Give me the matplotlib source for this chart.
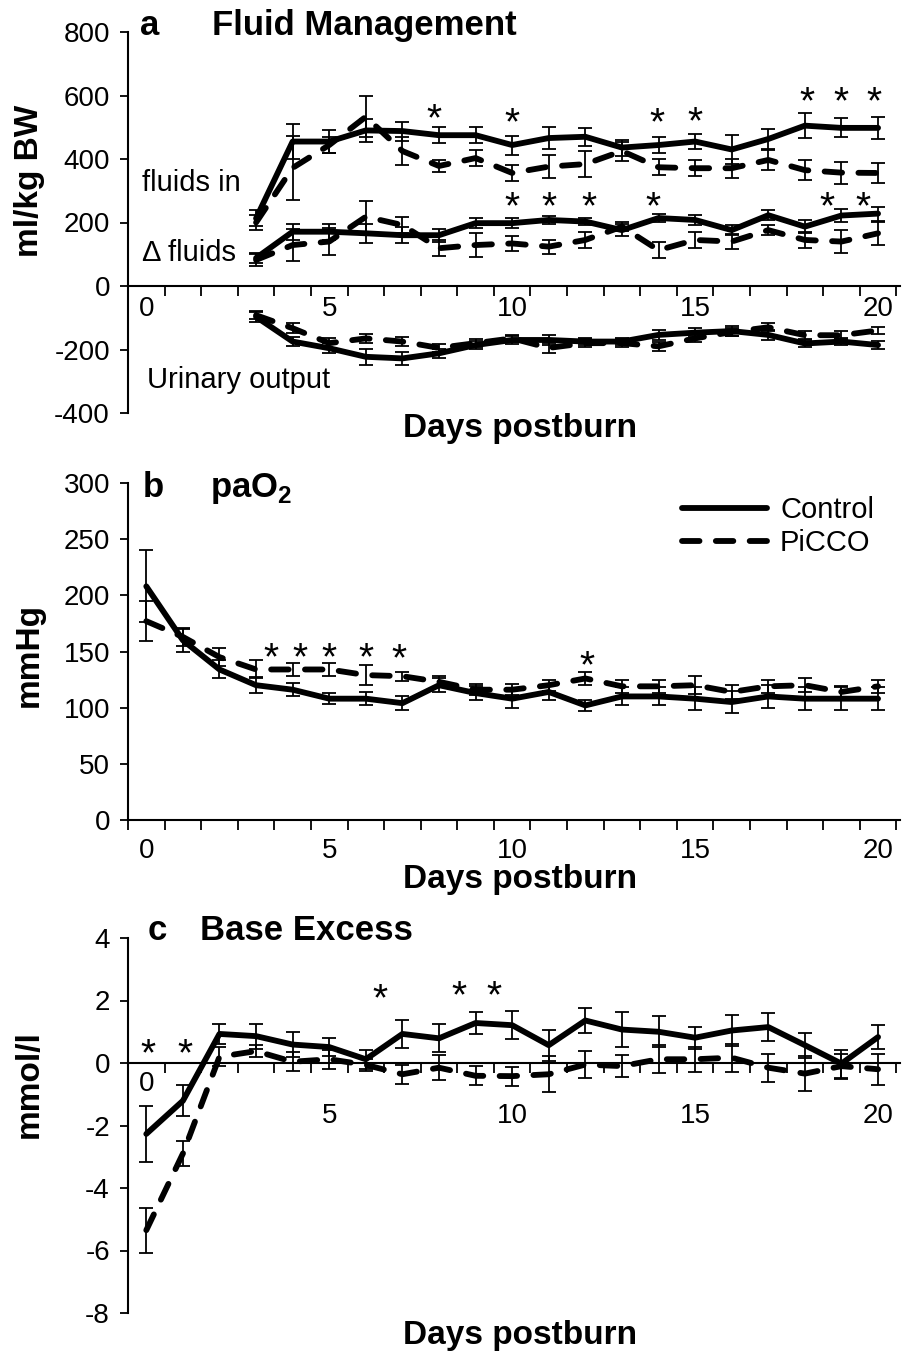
import numpy as np
import matplotlib
matplotlib.use("Agg")
import matplotlib.pyplot as plt
from matplotlib.lines import Line2D
from matplotlib.ticker import NullFormatter, FixedFormatter
from matplotlib.transforms import offset_copy

plt.rcParams["font.family"] = ["Liberation Sans", "DejaVu Sans"]
plt.rcParams["mathtext.fontset"] = "custom"
plt.rcParams["mathtext.bf"] = "Liberation Sans:bold"
plt.rcParams["mathtext.rm"] = "Liberation Sans"
plt.rcParams["axes.unicode_minus"] = False

# ---- panel a: fluid management (ml/kg BW), days 3..20
days_a = np.arange(3, 21)
ctrl_in = [213, 455, 455, 490, 488, 475, 475, 444, 466, 470, 436, 444, 455, 430, 463, 505, 498, 498]
ctrl_in_err = [25, 55, 35, 35, 30, 25, 25, 30, 35, 28, 25, 25, 25, 45, 30, 40, 30, 35]
picco_in = [200, 372, 444, 533, 425, 378, 403, 356, 376, 384, 425, 374, 371, 371, 397, 365, 357, 356]
picco_in_err = [25, 100, 25, 65, 45, 20, 25, 25, 36, 40, 30, 25, 25, 30, 32, 32, 35, 32]
ctrl_delta = [88, 171, 171, 166, 160, 160, 198, 198, 208, 203, 176, 214, 208, 176, 223, 187, 222, 228]
ctrl_delta_err = [15, 25, 25, 30, 25, 20, 15, 15, 12, 12, 20, 12, 15, 15, 15, 20, 20, 22]
picco_delta = [82, 129, 140, 218, 192, 119, 129, 134, 124, 145, 187, 113, 145, 140, 176, 145, 140, 166]
picco_delta_err = [20, 50, 42, 50, 25, 25, 37, 25, 22, 25, 15, 25, 25, 25, 15, 25, 35, 37]
ctrl_urine = [-97, -175, -196, -223, -228, -212, -186, -170, -170, -175, -175, -154, -147, -142, -154, -181, -175, -186]
ctrl_urine_err = [15, 15, 15, 25, 20, 15, 12, 12, 15, 12, 12, 15, 15, 15, 15, 12, 12, 12]
picco_urine = [-92, -133, -180, -165, -175, -195, -180, -165, -195, -180, -180, -190, -165, -145, -130, -155, -155, -140]
picco_urine_err = [12, 15, 15, 15, 15, 12, 12, 12, 15, 12, 12, 15, 12, 12, 12, 12, 12, 12]

# ---- panel b: paO2 (mmHg), days 0..20
days = np.arange(0, 21)
ctrl_pao2 = [208, 160, 134, 120, 116, 108, 108, 104, 120, 113, 108, 114, 102, 110, 110, 108, 105, 110, 108, 108, 108]
ctrl_pao2_err = [32, 10, 8, 7, 6, 5, 6, 6, 6, 6, 8, 7, 5, 8, 8, 10, 10, 10, 10, 10, 10]
picco_pao2 = [177, 163, 145, 134, 134, 134, 129, 128, 123, 116, 116, 120, 126, 119, 119, 120, 114, 119, 120, 114, 119]
picco_pao2_err = [18, 8, 8, 8, 6, 6, 9, 4, 5, 5, 5, 5, 6, 6, 6, 8, 6, 6, 6, 5, 6]

# ---- panel c: base excess (mmol/l), days 0..20
ctrl_be = [-2.27, -1.21, 0.93, 0.86, 0.59, 0.51, 0.12, 0.93, 0.79, 1.28, 1.21, 0.57, 1.36, 1.07, 1.0, 0.81, 1.04, 1.15, 0.57, -0.02, 0.83]
ctrl_be_err = [0.9, 0.5, 0.33, 0.4, 0.4, 0.3, 0.3, 0.44, 0.45, 0.35, 0.45, 0.5, 0.4, 0.55, 0.5, 0.35, 0.5, 0.45, 0.4, 0.45, 0.38]
picco_be = [-5.35, -2.9, 0.2, 0.38, 0.04, 0.12, -0.06, -0.36, -0.15, -0.41, -0.42, -0.36, -0.05, -0.1, 0.12, 0.12, 0.17, -0.15, -0.34, -0.1, -0.2]
picco_be_err = [0.72, 0.4, 0.3, 0.2, 0.3, 0.3, 0.2, 0.3, 0.4, 0.3, 0.3, 0.58, 0.42, 0.35, 0.45, 0.4, 0.45, 0.45, 0.55, 0.4, 0.5]

# significance asterisks (day, value)
stars_a = [(7.85, 561), (10.0, 548), (13.95, 548), (15.0, 552), (18.05, 615), (19.0, 615), (19.9, 615),
           (10.0, 283), (11.0, 283), (12.1, 283), (13.85, 283), (18.6, 285), (19.6, 285)]
stars_b = [(3.4, 154), (4.2, 154), (5.0, 154), (6.0, 154), (6.9, 153), (12.05, 147)]
stars_c = [(0.05, 0.65), (1.05, 0.65), (6.4, 2.4), (8.55, 2.5), (9.5, 2.5)]

yticks_a = [-400, -200, 0, 200, 400, 600, 800]
ylabels_a = ["-400", "-200", "0", "200", "400", "600", "800"]
yticks_b = [0, 50, 100, 150, 200, 250, 300]
yticks_c = [-8, -6, -4, -2, 0, 2, 4]
xlabel_days = [0, 5, 10, 15, 20]

fig = plt.figure(figsize=(9.03, 13.57), dpi=100)
left, width = 128 / 903, 772 / 903
ax_a = fig.add_axes([left, 1 - 413 / 1357, width, 381 / 1357])
ax_b = fig.add_axes([left, 1 - 820 / 1357, width, 337 / 1357])
ax_c = fig.add_axes([left, 1 - 1313 / 1357, width, 375 / 1357])

LW = 4.2
DASH = (3.0, 2.8)
STAR = 28


def series(ax, x, y, err, dashed):
    ax.errorbar(x, y, yerr=err, fmt="none", ecolor="black", elinewidth=1.3,
                capsize=5, capthick=1.3, zorder=2)
    kw = dict(color="black", lw=LW, solid_capstyle="round", dash_capstyle="round",
              solid_joinstyle="round", zorder=3)
    if dashed:
        kw["dashes"] = DASH
    ax.plot(x, y, **kw)


def style(ax, ylim, yticks, ylabels, at_zero, xpad, xlabels):
    ax.set_xlim(-0.5, 20.6)
    ax.set_ylim(*ylim)
    ax.spines["top"].set_visible(False)
    ax.spines["right"].set_visible(False)
    ax.spines["left"].set_linewidth(1.5)
    ax.spines["bottom"].set_linewidth(1.5)
    if at_zero:
        ax.spines["bottom"].set_position(("data", 0))
    ax.set_yticks(yticks)
    ax.set_yticklabels(ylabels)
    ax.tick_params(axis="y", direction="out", length=6, width=1.3, pad=7, labelsize=20)
    ax.set_xticks(np.arange(-0.5, 21, 1))
    ax.set_xticks(xlabel_days, minor=True)
    ax.xaxis.set_major_formatter(NullFormatter())
    ax.xaxis.set_minor_formatter(FixedFormatter(xlabels))
    ax.tick_params(axis="x", which="major", direction="out", length=7, width=1.3)
    ax.tick_params(axis="x", which="minor", length=0, pad=xpad, labelsize=20)


def stars(ax, pts):
    tr = offset_copy(ax.transData, fig=fig, y=-0.58 * STAR, units="points")
    for x, y in pts:
        ax.text(x, y, "*", transform=tr, ha="center", va="baseline", fontsize=STAR)


# panel a
series(ax_a, days_a, ctrl_in, ctrl_in_err, False)
series(ax_a, days_a, picco_in, picco_in_err, True)
series(ax_a, days_a, ctrl_delta, ctrl_delta_err, False)
series(ax_a, days_a, picco_delta, picco_delta_err, True)
series(ax_a, days_a, ctrl_urine, ctrl_urine_err, False)
series(ax_a, days_a, picco_urine, picco_urine_err, True)
style(ax_a, (-400, 800), yticks_a, ylabels_a, True, 7, [str(d) for d in xlabel_days])
stars(ax_a, stars_a)
ax_a.text(-0.12, 324, "fluids in", fontsize=21, va="center", ha="left")
ax_a.text(-0.12, 104, "\u0394 fluids", fontsize=21, va="center", ha="left")
ax_a.text(0.02, -296, "Urinary output", fontsize=21, va="center", ha="left")
ax_a.text(0.016, 0.992, "a", transform=ax_a.transAxes, fontsize=25, weight="bold", va="baseline")
ax_a.text(0.109, 0.992, "Fluid Management", transform=ax_a.transAxes, fontsize=25, weight="bold", va="baseline")
ax_a.text(0.508, -0.04, "Days postburn", transform=ax_a.transAxes, fontsize=24, weight="bold",
          ha="center", va="center")
ax_a.set_ylabel("ml/kg BW", fontsize=24, weight="bold")
ax_a.yaxis.set_label_coords(-0.1075, 0.61)

# panel b
series(ax_b, days, ctrl_pao2, ctrl_pao2_err, False)
series(ax_b, days, picco_pao2, picco_pao2_err, True)
style(ax_b, (0, 300), yticks_b, [str(v) for v in yticks_b], False, 13, [str(d) for d in xlabel_days])
stars(ax_b, stars_b)
ax_b.text(0.019, 0.958, "b", transform=ax_b.transAxes, fontsize=25, weight="bold", va="baseline")
ax_b.text(0.106, 0.958, r"paO$_\mathbf{2}$", transform=ax_b.transAxes, fontsize=25, weight="bold", va="baseline")
ax_b.text(0.508, -0.178, "Days postburn", transform=ax_b.transAxes, fontsize=24, weight="bold",
          ha="center", va="center")
ax_b.set_ylabel("mmHg", fontsize=24, weight="bold")
ax_b.yaxis.set_label_coords(-0.1075, 0.49)
handles = [Line2D([], [], color="black", lw=LW, solid_capstyle="round"),
           Line2D([], [], color="black", lw=LW, dashes=DASH, dash_capstyle="round")]
ax_b.legend(handles, ["Control", "PiCCO"], loc="upper left", bbox_to_anchor=(0.718, 0.96),
            frameon=False, fontsize=21, handlelength=2.9, handletextpad=0.45,
            borderpad=0, borderaxespad=0, labelspacing=0.15)

# panel c
series(ax_c, days, ctrl_be, ctrl_be_err, False)
series(ax_c, days, picco_be, picco_be_err, True)
style(ax_c, (-8, 4), yticks_c, [str(v) for v in yticks_c], True, 29, [""] + [str(d) for d in xlabel_days[1:]])
stars(ax_c, stars_c)
ax_c.text(0, -0.68, "0", fontsize=20, ha="center", va="center")
ax_c.text(0.026, 0.995, "c", transform=ax_c.transAxes, fontsize=25, weight="bold", va="baseline")
ax_c.text(0.093, 0.995, "Base Excess", transform=ax_c.transAxes, fontsize=25, weight="bold", va="baseline")
ax_c.text(0.508, -0.061, "Days postburn", transform=ax_c.transAxes, fontsize=24, weight="bold",
          ha="center", va="center")
ax_c.set_ylabel("mmol/l", fontsize=24, weight="bold")
ax_c.yaxis.set_label_coords(-0.1075, 0.61)

fig.savefig("out.png", dpi=100)
